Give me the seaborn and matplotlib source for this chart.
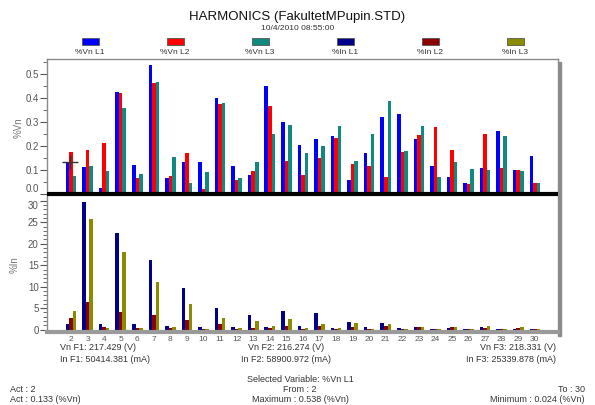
import matplotlib
matplotlib.use("Agg")
import matplotlib.pyplot as plt
from matplotlib.patches import Rectangle
from matplotlib.ticker import MultipleLocator, FormatStrFormatter
import seaborn as sns
import pandas as pd

sns.set_theme(style="white")
plt.rcParams["font.family"] = ["Liberation Sans", "DejaVu Sans"]

# harmonic orders 2..30
harmonics = [str(h) for h in range(2, 31)]

# voltage harmonics (%Vn)
vn_l1 = [0.133, 0.113, 0.024, 0.425, 0.122, 0.538, 0.066, 0.132, 0.135, 0.400,
         0.116, 0.080, 0.452, 0.302, 0.205, 0.230, 0.241, 0.060, 0.170, 0.320,
         0.335, 0.231, 0.115, 0.072, 0.047, 0.107, 0.263, 0.100, 0.157]
vn_l2 = [0.175, 0.185, 0.213, 0.422, 0.065, 0.462, 0.075, 0.170, 0.022, 0.375,
         0.057, 0.095, 0.368, 0.136, 0.080, 0.152, 0.233, 0.123, 0.116, 0.069,
         0.177, 0.244, 0.280, 0.182, 0.040, 0.248, 0.107, 0.098, 0.045]
vn_l3 = [0.075, 0.115, 0.095, 0.360, 0.085, 0.468, 0.155, 0.045, 0.090, 0.380,
         0.068, 0.133, 0.249, 0.286, 0.170, 0.202, 0.284, 0.138, 0.248, 0.388,
         0.180, 0.284, 0.072, 0.135, 0.104, 0.098, 0.240, 0.096, 0.045]

# current harmonics (%In)
in_l1 = [1.3, 29.8, 1.3, 22.6, 1.2, 16.2, 0.8, 9.6, 0.5, 5.0,
         0.5, 3.4, 0.5, 4.4, 0.8, 3.8, 0.4, 1.7, 0.5, 1.6,
         0.3, 0.5, 0.1, 0.4, 0.15, 0.6, 0.2, 0.1, 0.1]
in_l2 = [2.6, 6.4, 0.5, 4.0, 0.3, 3.4, 0.3, 2.3, 0.1, 1.2,
         0.2, 0.4, 0.3, 0.8, 0.2, 0.9, 0.2, 0.6, 0.1, 0.8,
         0.1, 0.5, 0.1, 0.5, 0.05, 0.3, 0.1, 0.3, 0.1]
in_l3 = [4.3, 25.8, 0.3, 18.2, 0.3, 11.2, 0.5, 6.0, 0.1, 2.7,
         0.4, 2.0, 0.8, 2.5, 0.4, 1.4, 0.4, 1.5, 0.1, 1.3,
         0.2, 0.5, 0.05, 0.5, 0.1, 0.8, 0.2, 0.6, 0.05]

vn_names = ["%Vn L1", "%Vn L2", "%Vn L3"]
in_names = ["%In L1", "%In L2", "%In L3"]
vn_colors = ["#0000ff", "#ff0000", "#108a80"]
in_colors = ["#00008b", "#8b0000", "#8b8b00"]

# selected cursor
act_harmonic = "2"
act_value = 0.133

vn_df = pd.DataFrame({"Harmonic": harmonics, vn_names[0]: vn_l1,
                      vn_names[1]: vn_l2, vn_names[2]: vn_l3})
vn_long = vn_df.melt(id_vars="Harmonic", var_name="series", value_name="value")
in_df = pd.DataFrame({"Harmonic": harmonics, in_names[0]: in_l1,
                      in_names[1]: in_l2, in_names[2]: in_l3})
in_long = in_df.melt(id_vars="Harmonic", var_name="series", value_name="value")

W, H = 595, 405
fig = plt.figure(figsize=(W / 100, H / 100), dpi=100)


def fx(px):
    return px / W


def fy(py):
    return 1 - py / H


left, right = 47, 558
ax1 = fig.add_axes([fx(left), fy(197), fx(right - left), (197 - 59) / H])
ax2 = fig.add_axes([fx(left), fy(332), fx(right - left), (332 - 197) / H])

# frame shadow
fig.add_artist(Rectangle((fx(right), fy(336)), fx(3), (336 - 62) / H,
                         transform=fig.transFigure, color="#8c8c8c", zorder=0))

sns.barplot(data=vn_long, x="Harmonic", y="value", hue="series", order=harmonics,
            hue_order=vn_names, palette=vn_colors, width=0.64, saturation=1,
            errorbar=None, legend=False, linewidth=0, ax=ax1)
sns.barplot(data=in_long, x="Harmonic", y="value", hue="series", order=harmonics,
            hue_order=in_names, palette=in_colors, width=0.64, saturation=1,
            errorbar=None, legend=False, linewidth=0, ax=ax2)

xlim = (-1.45, len(harmonics) - 1 + 1.4)
tick_col = "#555555"
for ax in (ax1, ax2):
    ax.set_xlim(*xlim)
    ax.set_xlabel("")
    ax.set_facecolor("white")
    for s in ax.spines.values():
        s.set_color("#8a8a8a")
        s.set_linewidth(1)
    ax.tick_params(axis="y", which="major", direction="out", length=5, width=0.8,
                   color=tick_col, labelsize=7, labelcolor=tick_col, pad=1, left=True)
    ax.tick_params(axis="y", which="minor", direction="out", length=3, width=0.6,
                   color=tick_col, left=True)

# upper panel
ax1.set_ylim(-0.0125, 0.5625)
ax1.yaxis.set_major_locator(MultipleLocator(0.1))
ax1.yaxis.set_minor_locator(MultipleLocator(0.05))
ax1.yaxis.set_major_formatter(FormatStrFormatter("%.1f"))
ax1.set_xticks([])
ax1.spines["bottom"].set_visible(False)
ax1.axhline(0, color="black", lw=3, zorder=5)
ax1.set_ylabel("%Vn", fontsize=7, color="#777777", labelpad=1)
ai = harmonics.index(act_harmonic)
ax1.hlines(act_value, ai - 0.55, ai + 0.45, color="#333333", lw=1, zorder=6)
ax1.vlines(ai - 0.05, act_value - 0.03, act_value + 0.03, color="#333333", lw=1, zorder=6)

# lower panel
ax2.set_ylim(-0.55, 30.9)
ax2.yaxis.set_major_locator(MultipleLocator(5))
ax2.yaxis.set_minor_locator(MultipleLocator(1))
ax2.spines["top"].set_visible(False)
ax2.spines["bottom"].set_color("#9a9a9a")
ax2.spines["bottom"].set_linewidth(3)
ax2.set_ylabel("%In", fontsize=7, color="#777777", labelpad=6)
ax2.tick_params(axis="x", length=0, labelsize=6, labelcolor=tick_col, pad=3)

fig.canvas.draw()
# lift the "0.0" label above the thick baseline, push "30" down
ax1.get_yticklabels()[1].set_va("bottom")
for lab in ax2.get_yticklabels():
    if lab.get_text() == "30":
        lab.set_va("top")

# title block
fig.text(0.5, fy(17), "HARMONICS (FakultetMPupin.STD)", ha="center", va="center",
         fontsize=9.5, color="#111111")
fig.text(0.5, fy(29), "10/4/2010 08:55:00", ha="center", va="center",
         fontsize=6, color="#333333")

# legend: swatch above label
legend_x = [90, 175, 260, 345, 430, 515]
for lx, name, col in zip(legend_x, vn_names + in_names, vn_colors + in_colors):
    fig.add_artist(Rectangle((fx(lx - 8.5), fy(45)), fx(17), 7 / H,
                             transform=fig.transFigure, facecolor=col,
                             edgecolor="#555555", lw=0.6))
    fig.text(fx(lx), fy(52), name, ha="center", va="center", fontsize=6, color="#333333")

# fundamental info
fs = 6.5
fig.text(fx(60), fy(348), "Vn F1: 217.429 (V)", ha="left", va="center", fontsize=fs, color="#333333")
fig.text(fx(60), fy(359), "In F1: 50414.381 (mA)", ha="left", va="center", fontsize=fs, color="#333333")
fig.text(fx(286), fy(348), "Vn F2: 216.274 (V)", ha="center", va="center", fontsize=fs, color="#333333")
fig.text(fx(286), fy(359), "In F2: 58900.972 (mA)", ha="center", va="center", fontsize=fs, color="#333333")
fig.text(fx(556), fy(348), "Vn F3: 218.331 (V)", ha="right", va="center", fontsize=fs, color="#333333")
fig.text(fx(556), fy(359), "In F3: 25339.878 (mA)", ha="right", va="center", fontsize=fs, color="#333333")

# selection summary
fig.text(fx(300), fy(379), "Selected Variable: %Vn L1", ha="center", va="center", fontsize=fs, color="#333333")
fig.text(fx(300), fy(389), "From : 2", ha="center", va="center", fontsize=fs, color="#333333")
fig.text(fx(300), fy(399), "Maximum : 0.538 (%Vn)", ha="center", va="center", fontsize=fs, color="#333333")
fig.text(fx(10), fy(389), "Act : 2", ha="left", va="center", fontsize=fs, color="#333333")
fig.text(fx(10), fy(399), "Act : 0.133 (%Vn)", ha="left", va="center", fontsize=fs, color="#333333")
fig.text(fx(585), fy(389), "To : 30", ha="right", va="center", fontsize=fs, color="#333333")
fig.text(fx(585), fy(399), "Minimum : 0.024 (%Vn)", ha="right", va="center", fontsize=fs, color="#333333")

fig.savefig("out.png", dpi=100)
